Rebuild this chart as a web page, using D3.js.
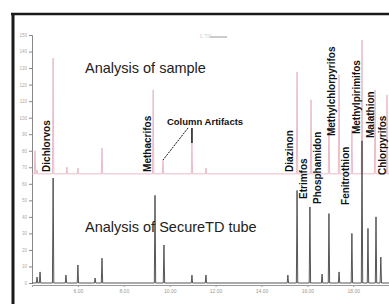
<!DOCTYPE html>
<html>
<head>
<meta charset="utf-8">
<script src="https://cdn.jsdelivr.net/npm/d3@7"></script>
<style>
  body { margin: 0; background: #fff; }
  svg { display: block; font-family: "Liberation Sans", Arial, sans-serif; }
</style>
</head>
<body>
<div id="chart"></div>
<script>
// Chromatograms - pesticides, sample vs SecureTD tube

// retention time (min) and peak height of the SecureTD tube trace (black)
const tubeTimes   = [4.22, 4.35, 4.92, 5.48, 6.00, 6.75, 7.05, 9.36, 9.75, 10.97, 11.58, 15.15, 15.55, 16.11, 16.64, 16.94, 17.38, 17.94, 18.38, 18.64, 18.99, 19.20];
const tubeHeights = [3.6, 6.7, 63.5, 4.8, 10.9, 3.0, 15.0, 53.0, 23.0, 4.8, 4.8, 4.8, 56.0, 46.0, 5.4, 42.0, 6.7, 30.0, 86.0, 33.0, 40.0, 15.7];

// retention time (min) and peak height of the sample trace (pink)
const sampleTimes   = [4.13, 4.22, 4.92, 5.52, 6.00, 7.05, 9.28, 9.71, 10.97, 11.58, 15.55, 16.16, 16.94, 17.38, 17.94, 18.38, 18.95, 19.47];
const sampleHeights = [14.0, 2.4, 70.0, 4.2, 3.6, 15.7, 50.8, 8.5, 18.8, 3.6, 61.7, 44.8, 33.9, 60.0, 26.6, 81.0, 50.8, 47.8];
const sampleOffset = 66;

// compound annotations: time and level where the label starts
const compounds   = ['Dichlorvos', 'Methacrifos', 'Diazinon', 'Etrimfos', 'Phosphamidon', 'Methylchlorpyrifos', 'Fenitrothion', 'Methylpirimifos', 'Malathion', 'Chlorpyrifos'];
const labelTimes  = [4.65, 9.05, 15.24, 15.81, 16.42, 17.03, 17.64, 18.16, 18.73, 19.29];
const labelLevels = [67.2, 67.2, 67.2, 50.8, 47.8, 88.9, 47.2, 90.1, 87.7, 65.3];

// axis ticks
const xTicks = [6, 8, 10, 12, 14, 16, 18];
const yTicks = d3.range(0, 151, 10);

function createChart() {
    const W = 389, H = 304;
    const svg = d3.select('#chart').append('svg')
        .attr('width', W)
        .attr('height', H);

    svg.append('rect').attr('width', W).attr('height', H).attr('fill', '#fff');

    // scales
    const x = d3.scaleLinear().domain([4, 19.6]).range([32, 390]);
    const y = d3.scaleLinear().domain([0, 150]).range([283, 35]);

    // frame
    svg.append('line')
        .attr('x1', 11).attr('x2', W).attr('y1', 14).attr('y2', 14)
        .attr('stroke', '#1a1a1a').attr('stroke-width', 2.5);
    svg.append('line')
        .attr('x1', 13).attr('x2', 13).attr('y1', 13).attr('y2', H)
        .attr('stroke', '#1a1a1a').attr('stroke-width', 3);

    // Y axis
    const yAxis = svg.append('g')
        .attr('transform', 'translate(32,0)')
        .call(d3.axisLeft(y).tickValues(yTicks).tickSize(3).tickPadding(2)
            .tickFormat(d => d));
    yAxis.select('.domain').attr('stroke', '#888');
    yAxis.selectAll('.tick line').attr('stroke', '#888');
    yAxis.selectAll('.tick text').attr('fill', '#aaa').style('font-size', '4.5px');

    // X axis
    const xAxis = svg.append('g')
        .attr('transform', 'translate(0,285)')
        .call(d3.axisBottom(x).tickValues(xTicks).tickSize(2).tickPadding(2)
            .tickFormat(d3.format('.2f')));
    xAxis.select('.domain').attr('stroke', '#999');
    xAxis.selectAll('.tick line').attr('stroke', '#999');
    xAxis.selectAll('.tick text').attr('fill', '#999').style('font-size', '5px');

    // build spike paths from peak lists
    const halfWidth = 0.03;
    function tracePoints(times, heights) {
        const pts = [[x.domain()[0], 0]];
        times.forEach((t, i) => {
            pts.push([t - halfWidth, 0], [t, heights[i]], [t + halfWidth, 0]);
        });
        pts.push([x.domain()[1], 0]);
        return pts;
    }

    const sampleLine = d3.line()
        .x(d => x(d[0]))
        .y(d => y(d[1] + sampleOffset));
    const tubeLine = d3.line()
        .x(d => x(d[0]))
        .y(d => y(d[1]));

    svg.append('path')
        .datum(tracePoints(sampleTimes, sampleHeights))
        .attr('d', sampleLine)
        .attr('fill', 'none')
        .attr('stroke', '#e8b4c2')
        .attr('stroke-width', 0.9);

    svg.append('path')
        .datum(tracePoints(tubeTimes, tubeHeights))
        .attr('d', tubeLine)
        .attr('fill', 'none')
        .attr('stroke', '#444')
        .attr('stroke-width', 0.9);

    // faint trace legend at the top
    svg.append('text')
        .attr('x', x(11.3)).attr('y', 38)
        .attr('fill', '#c8c8c8')
        .style('font-size', '4.5px')
        .text('1: TIC');
    svg.append('line')
        .attr('x1', x(11.75)).attr('x2', x(12.5)).attr('y1', 37).attr('y2', 37)
        .attr('stroke', '#bbb').attr('stroke-width', 1.5);

    // titles
    svg.append('text')
        .attr('x', x(6.31)).attr('y', y(127))
        .attr('fill', '#222')
        .style('font-size', '14.5px')
        .text('Analysis of sample');
    svg.append('text')
        .attr('x', x(6.31)).attr('y', y(30.9))
        .attr('fill', '#222')
        .style('font-size', '14.5px')
        .text('Analysis of SecureTD tube');

    // compound labels
    svg.selectAll('.label')
        .data(compounds)
        .enter()
        .append('text')
        .attr('class', 'label')
        .attr('transform', (d, i) => `translate(${x(labelTimes[i])},${y(labelLevels[i])}) rotate(-90)`)
        .attr('dominant-baseline', 'central')
        .attr('fill', '#111')
        .style('font-size', '10px')
        .style('font-weight', 'bold')
        .text(d => d);

    // column artifacts callout
    svg.append('text')
        .attr('x', x(9.88)).attr('y', y(95.6))
        .attr('fill', '#111')
        .style('font-size', '9.5px')
        .style('font-weight', 'bold')
        .text('Column Artifacts');
    svg.append('line')
        .attr('x1', x(10.80)).attr('y1', y(93.8))
        .attr('x2', x(9.71)).attr('y2', y(74.4))
        .attr('stroke', '#111').attr('stroke-width', 1)
        .attr('stroke-dasharray', '2,1');
    svg.append('line')
        .attr('x1', x(10.97)).attr('y1', y(93.8))
        .attr('x2', x(10.97)).attr('y2', y(84.7))
        .attr('stroke', '#111').attr('stroke-width', 1.5);
}

createChart();
</script>
</body>
</html>
